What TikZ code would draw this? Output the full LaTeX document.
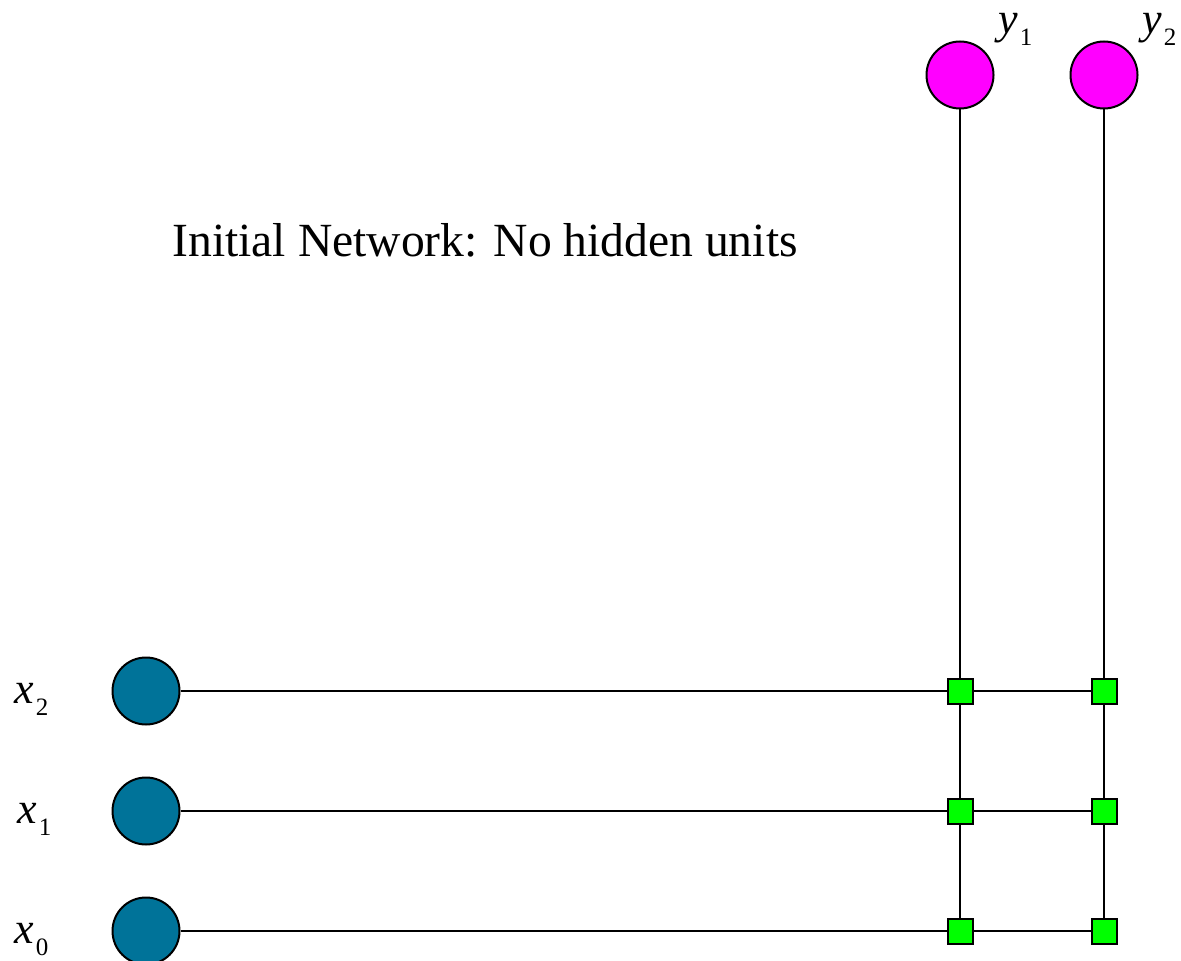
\documentclass[tikz,border=0pt]{standalone}
\usepackage{fontspec}
\setmainfont{Liberation Serif}
\definecolor{inblue}{RGB}{0,115,153}
\definecolor{outmag}{RGB}{255,0,255}
\definecolor{wgreen}{RGB}{0,255,0}
\newcommand{\sublbl}[2]{\itshape #1\kern1pt\raisebox{-6pt}{\upshape\fontsize{12.5}{12.5}\selectfont #2}}
\begin{document}
\begin{tikzpicture}[x=0.5pt,y=-0.5pt,
  inunit/.style={circle,draw=black,line width=1pt,fill=inblue,minimum size=33.5pt,inner sep=0pt},
  outunit/.style={circle,draw=black,line width=1pt,fill=outmag,minimum size=33.5pt,inner sep=0pt},
  weight/.style={rectangle,draw=black,line width=1pt,fill=wgreen,minimum size=12.5pt,inner sep=0pt},
  conn/.style={draw=black,line width=1pt},
  lbl/.style={anchor=base west,inner sep=0pt,font=\fontsize{22}{26}\selectfont},
  ttl/.style={anchor=base west,inner sep=0pt,font=\fontsize{23.8}{28}\selectfont}]
\useasboundingbox (0,0) rectangle (1181,961);
% units
\node[inunit] (in2) at (146,691) {};
\node[inunit] (in1) at (146,811) {};
\node[inunit] (in0) at (146,931) {};
\node[outunit] (out1) at (960,75) {};
\node[outunit] (out2) at (1104,75) {};
% weights
\node[weight] (w21) at (960,691) {};
\node[weight] (w22) at (1104,691) {};
\node[weight] (w11) at (960,811) {};
\node[weight] (w12) at (1104,811) {};
\node[weight] (w01) at (960,931) {};
\node[weight] (w02) at (1104,931) {};
% connectors
\draw[conn] (in2) -- (w21) -- (w22);
\draw[conn] (in1) -- (w11) -- (w12);
\draw[conn] (in0) -- (w01) -- (w02);
\draw[conn] (out1) -- (w21) -- (w11) -- (w01);
\draw[conn] (out2) -- (w22) -- (w12) -- (w02);
% labels
\node[lbl] (lx2) at (14,703) {\sublbl{x}{2}};
\node[lbl] (lx1) at (17,823) {\sublbl{x}{1}};
\node[lbl] (lx0) at (14,943) {\sublbl{x}{0}};
\node[lbl] (ly1) at (998,34) {\sublbl{y}{1}};
\node[lbl] (ly2) at (1142,34) {\sublbl{y}{2}};
\node[ttl] (title) at (172,257) {Initial Network: No hidden units};
\end{tikzpicture}
\end{document}
